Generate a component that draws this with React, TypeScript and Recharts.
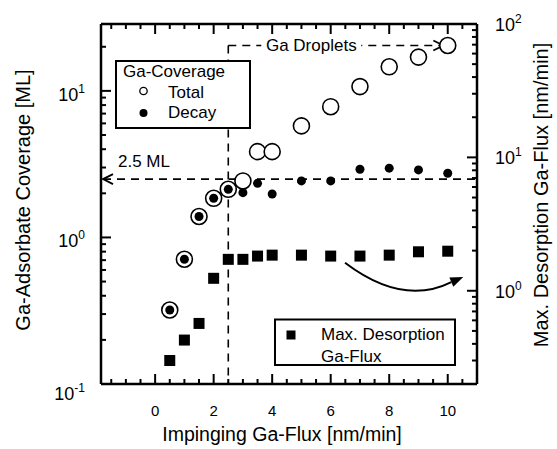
import React from 'react';
import { ComposedChart, Scatter, XAxis, YAxis, ReferenceLine } from 'recharts';

// ---- data ----
const impingingFlux = [0.5, 1, 1.5, 2, 2.5, 3, 3.5, 4, 5, 6, 7, 8, 9, 10];
const totalCoverage = [0.32, 0.71, 1.39, 1.85, 2.13, 2.43, 3.85, 3.85, 5.77, 7.8, 10.7, 14.6, 17.0, 20.4];
const decayCoverage = [0.32, 0.71, 1.39, 1.85, 2.13, 2.02, 2.34, 1.98, 2.43, 2.43, 2.92, 2.97, 2.89, 2.74];
const maxDesorptionFlux = [0.3, 0.427, 0.569, 1.24, 1.72, 1.72, 1.82, 1.85, 1.85, 1.82, 1.82, 1.85, 1.96, 1.98];

const xTickValues = [-1.5, -1, -0.5, 0, 0.5, 1, 1.5, 2, 2.5, 3, 3.5, 4, 4.5, 5, 5.5, 6, 6.5, 7, 7.5, 8, 8.5, 9, 9.5, 10, 10.5];
const xTickLabels = [0, 2, 4, 6, 8, 10];
const leftTickValues = [0.1, 0.2, 0.3, 0.4, 0.5, 0.6, 0.7, 0.8, 0.9, 1, 2, 3, 4, 5, 6, 7, 8, 9, 10, 20];
const leftMajorTicks = [0.1, 1, 10];
const rightTickValues = [0.2, 0.3, 0.4, 0.5, 0.6, 0.7, 0.8, 0.9, 1, 2, 3, 4, 5, 6, 7, 8, 9, 10, 20, 30, 40, 50, 60, 70, 80, 90, 100];
const rightMajorTicks = [1, 10, 100];

const coverageThreshold = 2.5;
const dropletFlux = 2.5;
const dropletCoverage = 20.4;

const totalData = impingingFlux.map((x, i) => ({ x, y: totalCoverage[i] }));
const decayData = impingingFlux.map((x, i) => ({ x, y: decayCoverage[i] }));
const desorptionData = impingingFlux.map((x, i) => ({ x, y: maxDesorptionFlux[i] }));

const FONT = '"Liberation Sans", Arial, Helvetica, sans-serif';
const near = (a: number, b: number) => Math.abs(a - b) < 1e-9;

const makeXTick = (side: 'top' | 'bottom') => (props: any) => {
  const { x, y, payload } = props;
  const v = payload.value;
  const major = near(v / 2, Math.round(v / 2));
  const len = major ? 10 : 5;
  const dir = side === 'bottom' ? -1 : 1;
  const showLabel = side === 'bottom' && xTickLabels.some((t) => near(t, v));
  return (
    <g>
      <line x1={x} x2={x} y1={y} y2={y + dir * len} stroke="#000" strokeWidth={2} />
      {showLabel && (
        <text x={x} y={y + 32} textAnchor="middle" fontSize={15} fill="#000" fontFamily={FONT}>
          {v}
        </text>
      )}
    </g>
  );
};

const makeYTick = (side: 'left' | 'right') => (props: any) => {
  const { x, y, payload } = props;
  const v = payload.value;
  const majors = side === 'left' ? leftMajorTicks : rightMajorTicks;
  const major = majors.some((m) => near(m, v));
  const len = major ? 10 : 5;
  const dir = side === 'left' ? 1 : -1;
  const exp = Math.round(Math.log10(v));
  let label = null;
  if (major) {
    if (side === 'left') {
      const dy = near(v, 0.1) ? 16 : 10;
      label = (
        <text x={x - 16} y={y + dy} textAnchor="end" fontSize={18} fill="#000" fontFamily={FONT}>
          10
          <tspan dy={-8} fontSize={12}>{exp}</tspan>
        </text>
      );
    } else {
      label = (
        <text x={x + 18} y={y + 7} textAnchor="start" fontSize={18} fill="#000" fontFamily={FONT}>
          10
          <tspan dy={-8} fontSize={12}>{exp}</tspan>
        </text>
      );
    }
  }
  return (
    <g>
      <line x1={x} x2={x + dir * len} y1={y} y2={y} stroke="#000" strokeWidth={2} />
      {label}
    </g>
  );
};

const openCircle = (p: any) => <circle cx={p.cx} cy={p.cy} r={8} fill="#fff" stroke="#000" strokeWidth={1.6} />;
const filledDot = (p: any) => <circle cx={p.cx} cy={p.cy} r={4.5} fill="#000" />;
const filledSquare = (p: any) => <rect x={p.cx - 5.5} y={p.cy - 5.5} width={11} height={11} fill="#000" />;

const thresholdShape = (p: any) => {
  const xl = Math.min(p.x1, p.x2);
  const xr = Math.max(p.x1, p.x2);
  const y = p.y1;
  return (
    <g>
      <line x1={xl + 2} y1={y} x2={xr} y2={y} stroke="#000" strokeWidth={1.6} strokeDasharray="8 6" />
      <path d={`M${xl + 12},${y - 5} L${xl + 2},${y} L${xl + 12},${y + 5}`} fill="none" stroke="#000" strokeWidth={1.8} />
      <text x={xl + 17} y={y - 12} fontSize={17} fill="#000" fontFamily={FONT}>2.5 ML</text>
    </g>
  );
};

const verticalShape = (p: any) => (
  <line x1={p.x1} y1={p.y1} x2={p.x2} y2={p.y2} stroke="#000" strokeWidth={1.6} strokeDasharray="8 6" />
);

const dropletShape = (p: any) => {
  const xs = p.x1;
  const xe = p.x2;
  const y = p.y1;
  const tx = xs + (xe - xs) * 0.386;
  return (
    <g>
      <line x1={xs} y1={y} x2={xe} y2={y} stroke="#000" strokeWidth={1.6} strokeDasharray="8 6" />
      <path d={`M${xe - 10},${y - 5} L${xe},${y} L${xe - 10},${y + 5}`} fill="none" stroke="#000" strokeWidth={1.8} />
      <rect x={tx - 50} y={y - 10} width={100} height={20} fill="#fff" />
      <text x={tx} y={y + 5} textAnchor="middle" fontSize={17} fill="#000" fontFamily={FONT}>Ga Droplets</text>
    </g>
  );
};

const curvedArrowShape = (p: any) => {
  const sx = p.x1, sy = p.y1, tx = p.x2, ty = p.y2;
  const dx = 0.916, dy = -0.4;
  const bx = tx - 13 * dx, by = ty - 13 * dy;
  const px = -dy, py = dx;
  return (
    <g>
      <path d={`M${sx},${sy} C${sx + 33},${sy + 25} ${bx - 36},${by + 18} ${bx},${by}`} fill="none" stroke="#000" strokeWidth={2} />
      <path d={`M${tx},${ty} L${bx + 5 * px},${by + 5 * py} L${bx - 5 * px},${by - 5 * py} Z`} fill="#000" />
    </g>
  );
};

export default function App() {
  return (
    <div style={{ position: 'absolute', left: 0, top: 0, width: 557, height: 449, fontFamily: FONT, background: '#fff' }}>
      <ComposedChart width={557} height={449} margin={{ top: 0, right: 0, bottom: 0, left: 0 }}>
        <XAxis
          xAxisId="bottom"
          dataKey="x"
          type="number"
          domain={[-1.85, 11]}
          allowDataOverflow
          ticks={xTickValues}
          interval={0}
          tickSize={0}
          tickMargin={0}
          height={65}
          orientation="bottom"
          axisLine={{ stroke: '#000', strokeWidth: 2.5 }}
          tickLine={false}
          tick={makeXTick('bottom')}
        />
        <XAxis
          xAxisId="top"
          dataKey="x"
          type="number"
          domain={[-1.85, 11]}
          allowDataOverflow
          ticks={xTickValues}
          interval={0}
          tickSize={0}
          tickMargin={0}
          height={24}
          orientation="top"
          axisLine={{ stroke: '#000', strokeWidth: 2.5 }}
          tickLine={false}
          tick={makeXTick('top')}
        />
        <YAxis
          yAxisId="left"
          dataKey="y"
          type="number"
          scale="log"
          domain={[0.1, 28.6]}
          allowDataOverflow
          ticks={leftTickValues}
          interval={0}
          tickSize={0}
          tickMargin={0}
          width={101}
          orientation="left"
          axisLine={{ stroke: '#000', strokeWidth: 2.5 }}
          tickLine={false}
          tick={makeYTick('left')}
        />
        <YAxis
          yAxisId="right"
          dataKey="y"
          type="number"
          scale="log"
          domain={[0.2, 100]}
          allowDataOverflow
          ticks={rightTickValues}
          interval={0}
          tickSize={0}
          tickMargin={0}
          width={80}
          orientation="right"
          axisLine={{ stroke: '#000', strokeWidth: 2.5 }}
          tickLine={false}
          tick={makeYTick('right')}
        />
        <ReferenceLine xAxisId="bottom" yAxisId="left" y={coverageThreshold} shape={thresholdShape} />
        <ReferenceLine
          xAxisId="bottom"
          yAxisId="left"
          segment={[{ x: dropletFlux, y: dropletCoverage }, { x: dropletFlux, y: 0.1 }]}
          shape={verticalShape}
        />
        <ReferenceLine
          xAxisId="bottom"
          yAxisId="left"
          segment={[{ x: dropletFlux, y: dropletCoverage }, { x: 9.85, y: dropletCoverage }]}
          shape={dropletShape}
        />
        <ReferenceLine
          xAxisId="bottom"
          yAxisId="right"
          segment={[{ x: 6.49, y: 1.62 }, { x: 10.53, y: 1.27 }]}
          shape={curvedArrowShape}
        />
        <Scatter name="Total" data={totalData} xAxisId="bottom" yAxisId="left" shape={openCircle} isAnimationActive={false} />
        <Scatter name="Decay" data={decayData} xAxisId="bottom" yAxisId="left" shape={filledDot} isAnimationActive={false} />
        <Scatter name="Max. Desorption Ga-Flux" data={desorptionData} xAxisId="bottom" yAxisId="right" shape={filledSquare} isAnimationActive={false} />
      </ComposedChart>
      <svg width={557} height={449} style={{ position: 'absolute', left: 0, top: 0, pointerEvents: 'none' }}>
        <g fontFamily={FONT} fill="#000">
          <rect x={116} y={61} width={134} height={67} fill="#fff" stroke="#000" strokeWidth={2} />
          <text x={123} y={77} fontSize={17}>Ga-Coverage</text>
          <circle cx={143.5} cy={91} r={3.7} fill="#fff" stroke="#000" strokeWidth={1.3} />
          <text x={168} y={98} fontSize={17}>Total</text>
          <circle cx={143.5} cy={113} r={4} fill="#000" />
          <text x={168} y={118} fontSize={17}>Decay</text>

          <rect x={275} y={319.5} width={180} height={45.5} fill="#fff" stroke="#000" strokeWidth={2} />
          <rect x={286.5} y={330.5} width={9} height={9} fill="#000" />
          <text x={321} y={340} fontSize={17}>Max. Desorption</text>
          <text x={321} y={362} fontSize={17}>Ga-Flux</text>

          <text x={282} y={441} fontSize={19.5} textAnchor="middle">Impinging Ga-Flux [nm/min]</text>
          <text transform="translate(30,200) rotate(-90)" fontSize={20} textAnchor="middle">Ga-Adsorbate Coverage [ML]</text>
          <text transform="translate(548,195) rotate(-90)" fontSize={20} textAnchor="middle">Max. Desorption Ga-Flux [nm/min]</text>
        </g>
      </svg>
    </div>
  );
}
